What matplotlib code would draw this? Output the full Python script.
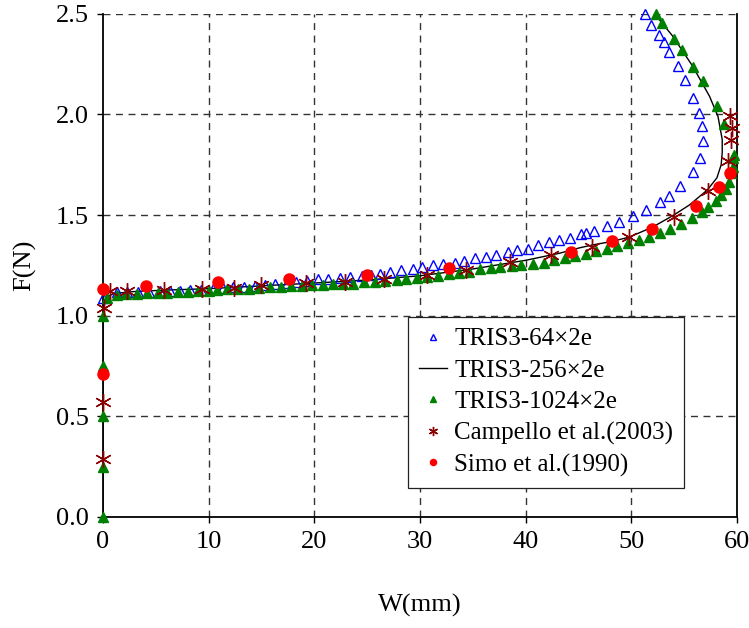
import numpy as np
import matplotlib.pyplot as plt

plt.rcParams['font.family'] = ['Liberation Serif', 'DejaVu Serif']

# TRIS3-64x2e (open blue triangles)
w64 = [0, 1.3, 2.3, 3.3, 4.4, 5.4, 6.3, 7.3, 8.2, 9.3, 10.4, 11.4, 12.3, 13.3, 14.4, 15.3,
       16.3, 17.4, 18.3, 19.3, 20.3, 21.3, 22.4, 23.4, 24.5, 25.4, 26.2, 27.2, 28.2, 29.3,
       30.2, 31.2, 32.2, 33.3, 34.2, 35.2, 36.2, 37.2, 38.3, 39.2, 40.2, 41.2, 42.2, 43.2,
       44.2, 45.2, 45.7, 46.5, 47.7, 48.8, 50.2, 51.4, 52.7, 53.6, 54.6, 55.8, 56.5, 56.8,
       56.7, 56.4, 55.8, 55.1, 54.4, 53.6, 53.1, 52.6, 51.9, 51.3]
f64 = [1.09, 1.115, 1.116, 1.117, 1.118, 1.12, 1.121, 1.123, 1.125, 1.127, 1.13, 1.135, 1.14,
       1.143, 1.148, 1.152, 1.157, 1.162, 1.167, 1.173, 1.180, 1.184, 1.187, 1.192, 1.198,
       1.202, 1.208, 1.218, 1.226, 1.232, 1.242, 1.250, 1.258, 1.264, 1.274, 1.284, 1.291,
       1.302, 1.314, 1.324, 1.333, 1.351, 1.364, 1.374, 1.388, 1.407, 1.413, 1.421, 1.446,
       1.467, 1.497, 1.526, 1.564, 1.597, 1.642, 1.716, 1.783, 1.866, 1.94, 2.009, 2.084,
       2.172, 2.243, 2.31, 2.358, 2.396, 2.445, 2.50]

# TRIS3-256x2e (solid line)
w256 = [0, 0, 0.3, 1, 3, 6, 10, 15, 20, 25, 30, 35, 40, 43.2, 45.1, 46.4, 48.0, 49.8, 52.0,
        53.9, 55.5, 57.2, 58.1, 58.5, 58.6, 58.6, 58.2, 57.4, 55.8, 53.9, 52.2]
f256 = [0, 1.05, 1.09, 1.11, 1.12, 1.127, 1.134, 1.148, 1.162, 1.177, 1.198, 1.232, 1.275,
        1.31, 1.337, 1.352, 1.367, 1.39, 1.44, 1.496, 1.55, 1.625, 1.685, 1.75, 1.81, 1.875,
        1.99, 2.09, 2.24, 2.39, 2.5]

# TRIS3-1024x2e (filled green triangles)
w1024 = [0, 0, 0, 0, 0, 0.4, 1.3, 2.2, 3.2, 4.2, 5.2, 6.1, 7.1, 8.0, 9.0, 10.0, 10.8, 11.7,
         12.8, 13.8, 14.8, 15.8, 16.8, 17.8, 18.8, 19.8, 20.8, 21.8, 22.7, 23.7, 24.7, 25.7,
         26.7, 27.8, 28.7, 29.7, 30.7, 31.7, 32.7, 33.7, 34.6, 35.7, 36.7, 37.6, 38.7, 39.6,
         40.7, 41.7, 42.7, 43.7, 44.7, 45.7, 46.7, 47.7, 48.6, 49.7, 50.7, 51.7, 52.7, 53.7,
         54.7, 55.7, 56.7, 57.3, 58.0, 58.5, 59.0, 59.2, 59.4, 59.6, 59.6, 59.7,
         58.8, 58.1, 56.8, 55.8, 54.8, 54.0, 52.9, 52.3]
f1024 = [0, 0.25, 0.5, 0.75, 1.0, 1.09, 1.105, 1.107, 1.109, 1.11, 1.112, 1.114, 1.116, 1.118,
         1.12, 1.123, 1.127, 1.132, 1.132, 1.133, 1.137, 1.140, 1.141, 1.145, 1.148, 1.151,
         1.152, 1.156, 1.157, 1.158, 1.165, 1.166, 1.173, 1.178, 1.183, 1.189, 1.193, 1.199,
         1.206, 1.211, 1.219, 1.233, 1.236, 1.241, 1.248, 1.252, 1.257, 1.264, 1.277, 1.286,
         1.297, 1.307, 1.319, 1.331, 1.344, 1.361, 1.377, 1.391, 1.410, 1.430, 1.456, 1.484,
         1.517, 1.539, 1.571, 1.600, 1.628, 1.663, 1.707, 1.740, 1.782, 1.80,
         1.952, 2.043, 2.164, 2.238, 2.318, 2.374, 2.454, 2.50]

# Campello et al. (2003)
w_camp = [0, 0, 0.1, 0.7, 2.3, 5.8, 9.4, 12.4, 15.0, 19.2, 22.9, 26.6, 30.7, 34.4, 38.5,
          42.4, 46.3, 49.8, 54.0, 57.3, 59.1, 59.4, 59.5, 59.3]
f_camp = [0.285, 0.57, 1.04, 1.12, 1.12, 1.128, 1.133, 1.138, 1.153, 1.163, 1.168, 1.183,
          1.203, 1.228, 1.267, 1.302, 1.342, 1.392, 1.491, 1.62, 1.77, 1.874, 1.935, 1.99]

# Simo et al. (1990)
w_simo = [0, 0, 4.1, 10.9, 17.6, 25.0, 32.7, 44.3, 48.2, 52.0, 56.1, 58.3, 59.3]
f_simo = [0.71, 1.13, 1.148, 1.168, 1.183, 1.203, 1.238, 1.317, 1.372, 1.43, 1.546, 1.64, 1.71]

xticks = np.arange(0, 61, 10)
yticks = np.arange(0, 2.51, 0.5)

fig = plt.figure(figsize=(7.49, 6.28), dpi=100)
ax = fig.add_axes([0.1375, 0.177, 0.8465, 0.801])

# dashed grid, drawn only inside the frame (and along the top edge)
for x in xticks[1:-1]:
    ax.axvline(x, color='#333333', linestyle=(0, (5, 4)), lw=1.0, zorder=0)
for y in yticks[1:]:
    ax.axhline(y, color='#333333', linestyle=(0, (5, 4)), lw=1.0, zorder=0)

ax.plot(w64, f64, linestyle='none', marker='^', mfc='none', mec='#0000ff', mew=1.0, ms=7,
        label='TRIS3-64×2e', zorder=3, clip_on=False)
ax.plot(w256, f256, color='black', lw=1.0, label='TRIS3-256×2e', zorder=2)
ax.plot(w1024, f1024, linestyle='none', marker='^', color='#008000', ms=7,
        label='TRIS3-1024×2e', zorder=3, clip_on=False)
ax.plot(w_camp, f_camp, linestyle='none', marker=(6, 2, 0), color='#8b0000', mew=1.0, ms=12,
        label='Campello et al.(2003)', zorder=4, clip_on=False)
ax.plot(w_simo, f_simo, linestyle='none', marker='o', color='#ff0000', ms=8,
        label='Simo et al.(1990)', zorder=5, clip_on=False)

ax.set_xlim(0, 60)
ax.set_ylim(0, 2.5)
ax.set_xticks(xticks)
ax.set_yticks(yticks)
ax.yaxis.set_major_formatter(plt.FormatStrFormatter('%.1f'))
ax.spines['top'].set_visible(False)
for s in ['left', 'bottom', 'right']:
    ax.spines[s].set_linewidth(1.3)
ax.tick_params(labelsize=19, direction='out', length=4, width=1, top=False, right=False, pad=6)
ax.set_xlabel('W(mm)', fontsize=19, labelpad=30)
ax.set_ylabel('F(N)', fontsize=19, labelpad=14)

leg = ax.legend(loc='upper left', bbox_to_anchor=(0.481, 0.398), borderaxespad=0,
                fontsize=18, markerscale=0.55, handlelength=1.1, handletextpad=0.3,
                frameon=True, fancybox=False, edgecolor='#222222', framealpha=1,
                borderpad=0.45, labelspacing=0.35)
leg.get_frame().set_linewidth(0.9)

fig.savefig('out.png', dpi=100)
